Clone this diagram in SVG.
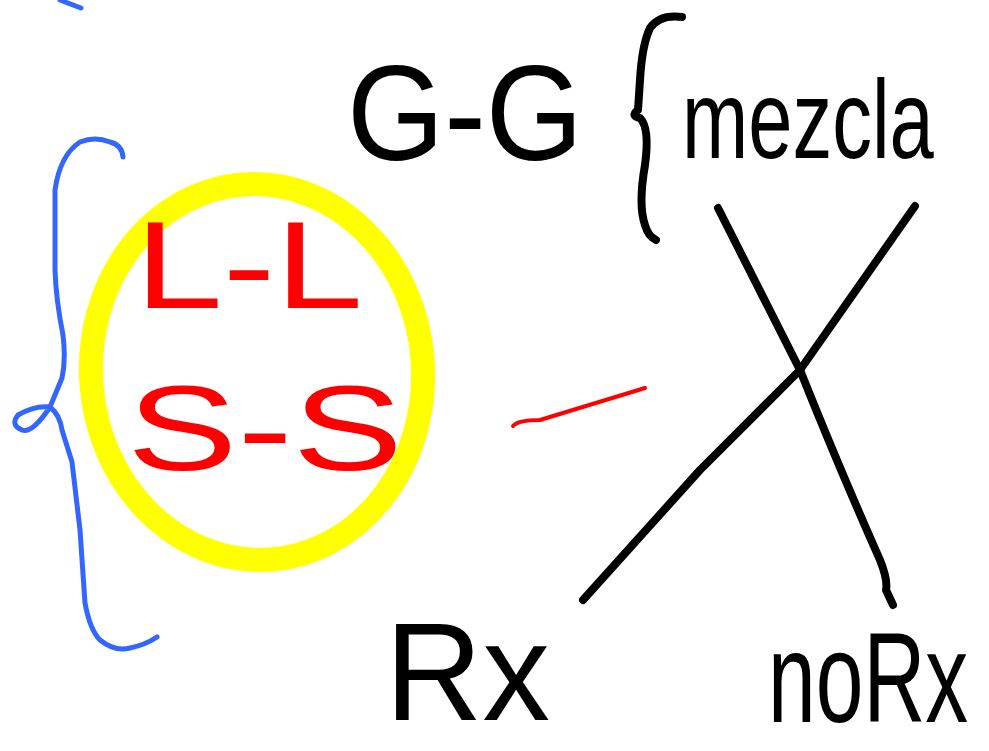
<svg xmlns="http://www.w3.org/2000/svg" width="989" height="751" viewBox="0 0 989 751">
<style>
.ink{fill:none;stroke-linecap:round;stroke-linejoin:round}
.blue{stroke:#3366ff;stroke-width:5}
.blk{stroke:#000;stroke-width:8}
.red{stroke:#ff0000;stroke-width:4}
.hand{font-family:"Liberation Sans","DejaVu Sans",sans-serif}
.tb{fill:#000}
.tr{fill:#ff0000}
</style>
<rect width="989" height="751" fill="#fff"/>
<g id="blue-mark"><path class="ink blue" d="M60,0 Q70,4 81,8"/></g>
<g id="blue-brace"><path class="ink blue" d="M123,157 Q122,145 110,142 Q95,136 80,142 Q60,155 55,190 L55,270 Q56,300 63,335 Q66,360 62,378 L50,407 Q35,405 18,415 Q10,425 22,430 Q32,434 50,407 Q60,415 62,430 L72,462 L80,530 L85,603 Q90,630 100,640 Q115,652 130,648 Q145,645 157,637"/></g>
<g id="yellow-circle"><ellipse cx="257" cy="372" rx="166" ry="188" fill="none" stroke="#ffff00" stroke-width="24" transform="rotate(-4 257 372)"/></g>
<g id="LL"><text class="hand tr" x="135" y="308" font-size="125" textLength="228" lengthAdjust="spacingAndGlyphs">L-L</text></g>
<g id="SS"><text class="hand tr" x="127" y="470" font-size="120" textLength="276" lengthAdjust="spacingAndGlyphs">S-S</text></g>
<g id="check"><path class="ink red" d="M513,426 Q518,420 540,420 L645,388"/></g>
<g id="GG"><text class="hand tb" x="347" y="160" font-size="135" textLength="236" lengthAdjust="spacingAndGlyphs">G-G</text></g>
<g id="black-brace"><path class="ink blk" d="M682,17 Q660,14 650,28 Q642,45 640,80 L638,110 Q630,116 640,118 Q650,128 645,165 Q638,205 645,225 Q648,236 656,240"/></g>
<g id="mezcla"><text class="hand tb" transform="translate(682,158) scale(0.71,1)" x="0" y="0" font-size="112">mezcla</text></g>
<g id="cross">
<path class="ink blk" d="M718,208 L800,370 Q840,470 880,560 Q888,580 886,590 L893,605"/>
<path class="ink blk" d="M915,206 L800,370 Q750,420 700,470 L583,600"/>
</g>
<g id="Rx"><text class="hand tb" x="385" y="720" font-size="140" textLength="165" lengthAdjust="spacingAndGlyphs">Rx</text></g>
<g id="noRx"><text class="hand tb" transform="translate(768,722) scale(0.67,1)" x="0" y="0" font-size="128">noRx</text></g>
</svg>
